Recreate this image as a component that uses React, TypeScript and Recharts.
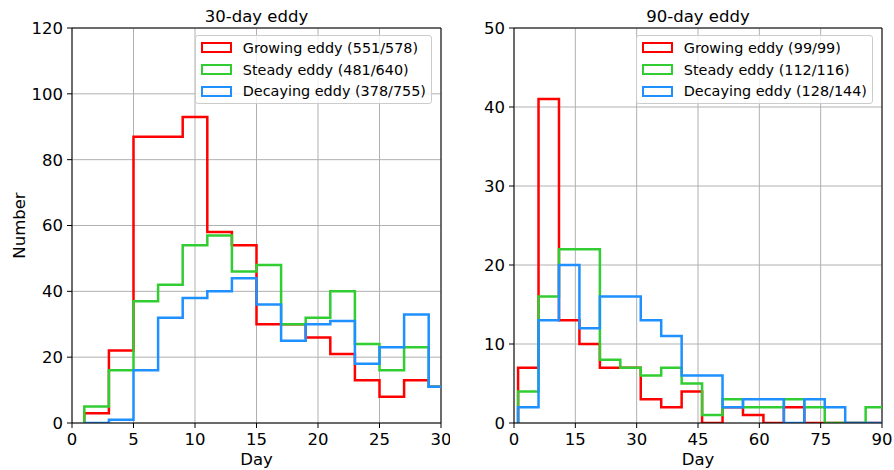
import React from "react";
import { ComposedChart, Line, XAxis, YAxis, CartesianGrid, ReferenceLine } from "recharts";

// bin edges (days) and counts per bin
const edges30 = [1, 3, 5, 7, 9, 11, 13, 15, 17, 19, 21, 23, 25, 27, 29, 31];
const growing30 = [3, 22, 87, 87, 93, 58, 54, 30, 30, 26, 21, 13, 8, 13, 11];
const steady30 = [5, 16, 37, 42, 54, 57, 46, 48, 30, 32, 40, 24, 16, 23, 11];
const decaying30 = [0, 1, 16, 32, 38, 40, 44, 36, 25, 30, 31, 18, 23, 33, 11];

const edges90 = [1, 6, 11, 16, 21, 26, 31, 36, 41, 46, 51, 56, 61, 66, 71, 76, 81, 86, 91];
const growing90 = [7, 41, 13, 10, 7, 7, 3, 2, 4, 0, 2, 1, 0, 2, 0, 0, 0, 0];
const steady90 = [4, 16, 22, 22, 8, 7, 6, 7, 5, 1, 3, 2, 2, 3, 2, 0, 0, 2];
const decaying90 = [2, 13, 20, 12, 16, 16, 13, 11, 6, 6, 2, 3, 3, 0, 3, 2, 0, 0];

const xTicks30 = [0, 5, 10, 15, 20, 25, 30];
const yTicks30 = [0, 20, 40, 60, 80, 100, 120];
const xTicks90 = [0, 15, 30, 45, 60, 75, 90];
const yTicks90 = [0, 10, 20, 30, 40, 50];

const legend30 = ["Growing eddy (551/578)", "Steady eddy (481/640)", "Decaying eddy (378/755)"];
const legend90 = ["Growing eddy (99/99)", "Steady eddy (112/116)", "Decaying eddy (128/144)"];
const colors = ["#ff0000", "#32cd32", "#1e90ff"];

const FONT = "'DejaVu Sans', sans-serif";

// outline of a step histogram: up from 0 at the first edge, down to 0 at the last
function steps(edges: number[], counts: number[]) {
  const pts = [{ x: edges[0], y: 0 }];
  counts.forEach((c, i) => pts.push({ x: edges[i], y: c }));
  pts.push({ x: edges[edges.length - 1], y: 0 });
  return pts;
}

type PanelProps = {
  left: number;
  width: number;
  yAxisWidth: number;
  rightMargin: number;
  title: string;
  edges: number[];
  series: number[][];
  labels: string[];
  xTicks: number[];
  yTicks: number[];
  yLabel?: string;
};

function Panel({ left, width, yAxisWidth, rightMargin, title, edges, series, labels, xTicks, yTicks, yLabel }: PanelProps) {
  const xMax = xTicks[xTicks.length - 1];
  const yMax = yTicks[yTicks.length - 1];
  const plotLeft = yAxisWidth;
  const plotRight = width - rightMargin;
  const cx = (plotLeft + plotRight) / 2;
  const tick = { fill: "#000", fontSize: 16.5, fontFamily: FONT };

  return (
    <div style={{ position: "absolute", left, top: 0, width, height: 470 }}>
      <ComposedChart width={width} height={470} margin={{ top: 28, right: rightMargin, bottom: 0, left: 0 }}>
        <CartesianGrid stroke="#b0b0b0" strokeWidth={1} />
        <XAxis
          type="number"
          dataKey="x"
          domain={[0, xMax]}
          ticks={xTicks}
          allowDataOverflow
          height={47}
          tick={tick}
          tickSize={5}
          tickMargin={5}
          tickLine={{ stroke: "#000" }}
          axisLine={{ stroke: "#000" }}
        />
        <YAxis
          type="number"
          domain={[0, yMax]}
          ticks={yTicks}
          allowDataOverflow
          width={yAxisWidth}
          tick={tick}
          tickSize={5}
          tickMargin={4}
          tickLine={{ stroke: "#000" }}
          axisLine={{ stroke: "#000" }}
        />
        <ReferenceLine y={yMax} stroke="#000" strokeWidth={1} />
        <ReferenceLine x={xMax} stroke="#000" strokeWidth={1} />
        {series.map((counts, i) => (
          <Line
            key={labels[i]}
            data={steps(edges, counts)}
            dataKey="y"
            type="stepAfter"
            stroke={colors[i]}
            strokeWidth={2.5}
            dot={false}
            activeDot={false}
            isAnimationActive={false}
          />
        ))}
      </ComposedChart>
      <svg width={width} height={470} style={{ position: "absolute", left: 0, top: 0, pointerEvents: "none" }}>
        <text x={cx} y={21.5} textAnchor="middle" fontSize={16.5} fontFamily={FONT} fill="#000">
          {title}
        </text>
        <text x={cx} y={465} textAnchor="middle" fontSize={16.5} fontFamily={FONT} fill="#000">
          Day
        </text>
        {yLabel && (
          <text
            x={25}
            y={225.5}
            transform="rotate(-90 25 225.5)"
            textAnchor="middle"
            fontSize={16.5}
            fontFamily={FONT}
            fill="#000"
          >
            {yLabel}
          </text>
        )}
      </svg>
      <div
        style={{
          position: "absolute",
          top: 35,
          right: rightMargin + 9,
          border: "1px solid #cccccc",
          borderRadius: 3,
          background: "rgba(255,255,255,0.8)",
          padding: "1px 5px",
          fontFamily: FONT,
          fontSize: 14.4,
        }}
      >
        {labels.map((lab, i) => (
          <div key={lab} style={{ display: "flex", alignItems: "center", height: 21.7, whiteSpace: "nowrap" }}>
            <span
              style={{
                display: "inline-block",
                width: 27,
                height: 7,
                border: `2px solid ${colors[i]}`,
                marginRight: 11,
              }}
            />
            <span>{lab}</span>
          </div>
        ))}
      </div>
    </div>
  );
}

export default function App() {
  return (
    <div style={{ position: "absolute", left: 0, top: 0, width: 894, height: 470, background: "#fff" }}>
      <Panel
        left={0}
        width={450}
        yAxisWidth={72}
        rightMargin={9}
        title="30-day eddy"
        edges={edges30}
        series={[growing30, steady30, decaying30]}
        labels={legend30}
        xTicks={xTicks30}
        yTicks={yTicks30}
        yLabel="Number"
      />
      <Panel
        left={450}
        width={444}
        yAxisWidth={64}
        rightMargin={12}
        title="90-day eddy"
        edges={edges90}
        series={[growing90, steady90, decaying90]}
        labels={legend90}
        xTicks={xTicks90}
        yTicks={yTicks90}
      />
    </div>
  );
}
